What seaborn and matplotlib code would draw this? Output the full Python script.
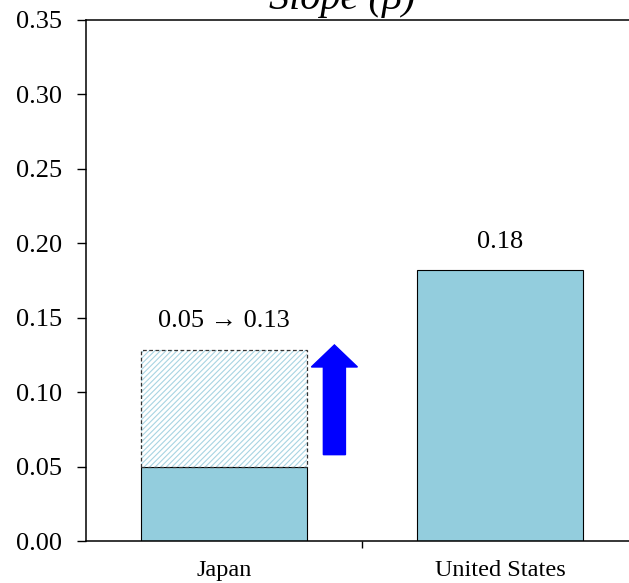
import matplotlib
matplotlib.use("Agg")
import matplotlib.pyplot as plt
import seaborn as sns
import pandas as pd

# data
countries = ["Japan", "United States"]
slope_values = [0.05, 0.182]
japan_new_slope = 0.128
bar_labels = ["0.05 \u2192 0.13", "0.18"]
yticks = [0.00, 0.05, 0.10, 0.15, 0.20, 0.25, 0.30, 0.35]

sns.set_style("ticks")
plt.rcParams['font.family'] = ['Liberation Serif', 'DejaVu Serif']
plt.rcParams['hatch.linewidth'] = 0.8
plt.rcParams['text.color'] = 'black'
plt.rcParams['xtick.color'] = 'black'
plt.rcParams['ytick.color'] = 'black'

bar_color = "#93CDDD"

df = pd.DataFrame({"country": countries, "slope": slope_values})

fig = plt.figure(figsize=(6.29, 5.83), dpi=100)
# axes run past the right edge of the figure, like the reference
ax = fig.add_axes([86 / 629, 42 / 583, 552 / 629, 521 / 583])

sns.barplot(data=df, x="country", y="slope", color=bar_color, saturation=1,
            edgecolor="black", linewidth=0.8, width=0.6, ax=ax)

# hatched increase on top of Japan
inc = japan_new_slope - slope_values[0]
ax.bar(0, inc, bottom=slope_values[0], width=0.6, color="white",
       hatch="//////", edgecolor="#A8D4E2", linewidth=0, zorder=2)
ax.bar(0, inc, bottom=slope_values[0], width=0.6, facecolor="none",
       edgecolor="#333333", linewidth=0.9, linestyle=(0, (3, 2)), zorder=3)

# blue up arrow
ax.arrow(0.40, 0.058, 0, japan_new_slope - 0.058 - 0.0148 + 0.0037,
         width=0.08, head_width=0.167, head_length=0.0148,
         length_includes_head=False, color="#0000FF", zorder=4)

# value labels
ax.text(0, 0.148, bar_labels[0], ha="center", va="center", fontsize=19)
ax.text(1, 0.201, bar_labels[1], ha="center", va="center", fontsize=19)

ax.set_xlim(-0.5, 1.5)
ax.set_ylim(0, 0.35)
ax.set_yticks(yticks)
ax.set_yticklabels([f"{t:.2f}" for t in yticks])
ax.set_xlabel("")
ax.set_ylabel("")
ax.tick_params(axis="y", direction="out", length=6.5, width=1, labelsize=19, pad=11)
ax.tick_params(axis="x", which="major", length=0, labelsize=17.5, pad=14)
ax.set_xticks([0.5], minor=True)
ax.tick_params(axis="x", which="minor", direction="out", length=5, width=1)
for s in ax.spines.values():
    s.set_linewidth(1.1)
    s.set_color("black")

fig.text(342 / 629, 1 - 9 / 583, "Slope (\u03b2)", ha="center", va="baseline",
         fontsize=29, style="italic")

fig.savefig("out.png", dpi=100)
